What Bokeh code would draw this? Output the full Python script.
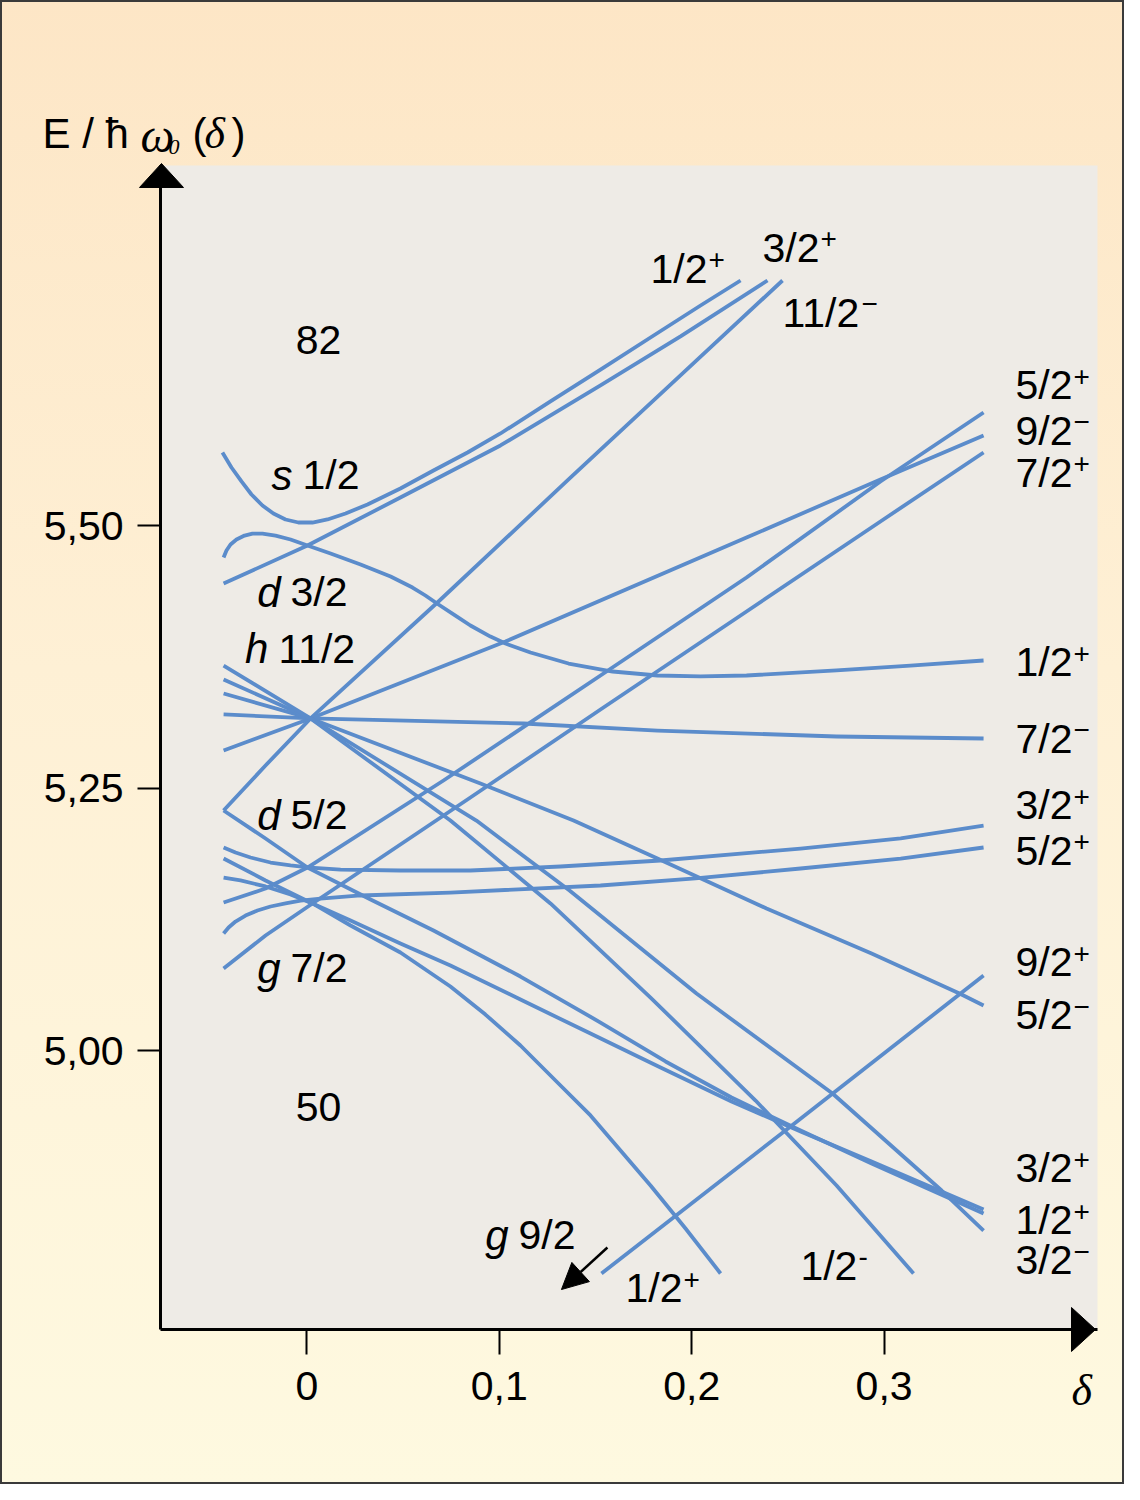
from bokeh.plotting import figure
from bokeh.models import ColumnDataSource, FixedTicker, Range1d, Arrow, NormalHead, BoxAnnotation
from bokeh.core.properties import value
from bokeh.embed import file_html
from bokeh.resources import INLINE

# ---------------- data ----------------
delta_ticks = [0.0, 0.1, 0.2, 0.3]
delta_tick_labels = ["0", "0,1", "0,2", "0,3"]
E_ticks = [5.00, 5.25, 5.50]
E_tick_labels = ["5,00", "5,25", "5,50"]

# s 1/2  (Omega 1/2)
s12_d = [-0.0439, -0.0392, -0.0340, -0.0288, -0.0231, -0.0174, -0.0111, -0.0044, 0.0029, 0.0107, 0.0201,
         0.0315, 0.0486, 0.0658, 0.0835, 0.1006, 0.1266, 0.1526, 0.1786, 0.2046, 0.2254]
s12_E = [5.5697, 5.5554, 5.5421, 5.5297, 5.5192, 5.5116, 5.5059, 5.5030, 5.5030, 5.5059, 5.5116,
         5.5202, 5.5354, 5.5525, 5.5697, 5.5878, 5.6183, 5.6487, 5.6792, 5.7097, 5.7335]

# d 3/2
d32_o32_d = [-0.0433, 0.0003, 0.0486, 0.1006, 0.1526, 0.1942, 0.2394]
d32_o32_E = [5.4449, 5.4811, 5.5268, 5.5764, 5.6335, 5.6802, 5.7335]
d32_o12_d = [-0.0433, -0.0418, -0.0397, -0.0366, -0.0324, -0.0283, -0.0231, -0.0163, -0.0085, 0.0003,
             0.0123, 0.0279, 0.0435, 0.0549, 0.0616, 0.0684, 0.0772, 0.0850, 0.0954, 0.1032, 0.1162,
             0.1360, 0.1589, 0.1822, 0.2046, 0.2285, 0.2753, 0.3137, 0.3517]
d32_o12_E = [5.4697, 5.4764, 5.4821, 5.4868, 5.4906, 5.4925, 5.4925, 5.4906, 5.4868, 5.4811,
             5.4735, 5.4630, 5.4516, 5.4411, 5.4335, 5.4249, 5.4144, 5.4049, 5.3944, 5.3878, 5.3792,
             5.3687, 5.3611, 5.3573, 5.3564, 5.3573, 5.3621, 5.3668, 5.3716]

# h 11/2
h112_o112_d = [-0.0433, -0.0215, 0.0019, 0.0684, 0.1360, 0.1890, 0.2472]
h112_o112_E = [5.2287, 5.2716, 5.3164, 5.4278, 5.5440, 5.6344, 5.7335]
h112_o92_d = [-0.0433, 0.0019, 0.1032, 0.2285, 0.2981, 0.3517]
h112_o92_E = [5.2859, 5.3164, 5.3897, 5.4887, 5.5440, 5.5859]
h112_o72_d = [-0.0433, 0.0019, 0.1126, 0.1822, 0.2753, 0.3517]
h112_o72_E = [5.3202, 5.3164, 5.3116, 5.3049, 5.2992, 5.2973]
h112_o52_d = [-0.0433, 0.0019, 0.0902, 0.1386, 0.1822, 0.2389, 0.2935, 0.3392, 0.3517]
h112_o52_E = [5.3402, 5.3164, 5.2544, 5.2192, 5.1830, 5.1354, 5.0925, 5.0544, 5.0430]
h112_o32_d = [-0.0433, 0.0019, 0.0881, 0.1365, 0.2025, 0.2732, 0.3299, 0.3517]
h112_o32_E = [5.3535, 5.3164, 5.2192, 5.1525, 5.0544, 4.9592, 4.8668, 4.8287]
h112_o12_d = [-0.0433, 0.0019, 0.0746, 0.1266, 0.1786, 0.2332, 0.2753, 0.3153]
h112_o12_E = [5.3668, 5.3164, 5.2192, 5.1402, 5.0506, 4.9525, 4.8716, 4.7878]

# d 5/2
d52_o52_d = [-0.0433, -0.0215, 0.0003, 0.0710, 0.1526, 0.2285, 0.2981, 0.3517]
d52_o52_E = [5.1411, 5.1544, 5.1744, 5.2573, 5.3573, 5.4506, 5.5421, 5.6078]
d52_o32_d = [-0.0433, -0.0371, -0.0293, -0.0189, -0.0085, 0.0019, 0.0175, 0.0486, 0.0850, 0.1318,
             0.1838, 0.2566, 0.3086, 0.3517]
d52_o32_E = [5.1935, 5.1887, 5.1840, 5.1792, 5.1764, 5.1744, 5.1725, 5.1716, 5.1716, 5.1754,
             5.1811, 5.1925, 5.2021, 5.2144]
d52_o12_d = [-0.0433, -0.0215, 0.0003, 0.0331, 0.0658, 0.1110, 0.1526, 0.1864, 0.2207, 0.2566, 0.2935, 0.3517]
d52_o12_E = [5.2287, 5.2021, 5.1744, 5.1440, 5.1144, 5.0706, 5.0268, 4.9897, 4.9554, 4.9240, 4.8925, 4.8449]

# g 7/2
g72_o72_d = [-0.0433, -0.0215, 0.0029, 0.0850, 0.1526, 0.2285, 0.2981, 0.3517]
g72_o72_E = [5.0783, 5.1097, 5.1402, 5.2411, 5.3249, 5.4183, 5.5040, 5.5697]
g72_o52_d = [-0.0433, -0.0407, -0.0371, -0.0319, -0.0257, -0.0189, -0.0111, -0.0033, 0.0071, 0.0279,
             0.0746, 0.1526, 0.2020, 0.2566, 0.3086, 0.3517]
g72_o52_E = [5.1116, 5.1173, 5.1230, 5.1287, 5.1335, 5.1373, 5.1402, 5.1430, 5.1449, 5.1478,
             5.1506, 5.1573, 5.1640, 5.1735, 5.1830, 5.1935]
g72_o32_d = [-0.0433, -0.0345, -0.0215, -0.0085, 0.0029, 0.0227, 0.0486, 0.0746, 0.1110, 0.1474,
             0.1838, 0.2207, 0.2566, 0.2935, 0.3517]
g72_o32_E = [5.1649, 5.1621, 5.1564, 5.1487, 5.1402, 5.1240, 5.1021, 5.0811, 5.0487, 5.0163,
             4.9840, 4.9516, 4.9230, 4.8944, 4.8487]
g72_o12_d = [-0.0433, -0.0215, 0.0029, 0.0227, 0.0486, 0.0746, 0.0928, 0.1110, 0.1292, 0.1474,
             0.1630, 0.1786, 0.1968, 0.2150]
g72_o12_E = [5.1830, 5.1621, 5.1402, 5.1192, 5.0935, 5.0611, 5.0344, 5.0049, 4.9716, 4.9383,
             4.9049, 4.8716, 4.8306, 4.7878]

# g 9/2 (Omega 9/2)
g92_o92_d = [0.1531, 0.2514, 0.3517]
g92_o92_E = [4.7878, 4.9278, 5.0716]

# level labels (fraction + parity sign)
lvl_x = [0.3683] * 12 + [0.1786, 0.2368, 0.2472, 0.1656, 0.2565]
lvl_y = [5.6335, 5.5906, 5.5506, 5.3697, 5.2973, 5.2335, 5.1906, 5.0840, 5.0335, 4.8878, 4.8383, 4.8002,
         5.7449, 5.7649, 5.7030, 4.7735, 4.7954]
lvl_frac = ["5/2", "9/2", "7/2", "1/2", "7/2", "3/2", "5/2", "9/2", "5/2", "3/2", "1/2", "3/2",
            "1/2", "3/2", "11/2", "1/2", "1/2"]
lvl_sign = ["+", "\u2212", "+", "+", "\u2212", "+", "+", "+", "\u2212", "+", "+", "\u2212",
            "+", "+", "\u2212", "+", "-"]

# shell labels (orbital letter + j)
shell_x = [-0.0023, -0.0085, -0.0148, -0.0085, -0.0085, 0.1100]
shell_y = [5.5478, 5.4364, 5.3830, 5.2240, 5.0783, 4.8240]
shell_l = ["s", "d", "h", "d", "g", "g"]
shell_j = ["1/2", "3/2", "11/2", "5/2", "7/2", "9/2"]

# magic numbers
magic_x = [0.0060, 0.0060]
magic_y = [5.6764, 4.9459]
magic_t = ["82", "50"]

curves = [
    (s12_d, s12_E), (d32_o32_d, d32_o32_E), (d32_o12_d, d32_o12_E),
    (h112_o112_d, h112_o112_E), (h112_o92_d, h112_o92_E), (h112_o72_d, h112_o72_E),
    (h112_o52_d, h112_o52_E), (h112_o32_d, h112_o32_E), (h112_o12_d, h112_o12_E),
    (d52_o52_d, d52_o52_E), (d52_o32_d, d52_o32_E), (d52_o12_d, d52_o12_E),
    (g72_o72_d, g72_o72_E), (g72_o52_d, g72_o52_E), (g72_o32_d, g72_o32_E), (g72_o12_d, g72_o12_E),
    (g92_o92_d, g92_o92_E),
]

# ---------------- figure ----------------
W, H = 1124, 1484
PX_X = 1924.0   # pixels per unit delta
PX_Y = 1050.0   # pixels per unit energy
# whole canvas is the frame; the grey panel is the plotting box
XL, XR = -0.15925, 0.42495
YB, YT = 4.58683, 6.00016
X0, X1 = -0.07609, 0.41091     # grey panel (axis extent)
Y0, Y1 = 4.73445, 5.84302

p = figure(width=W, height=H, x_range=Range1d(XL, XR), y_range=Range1d(YB, YT),
           output_backend="svg", toolbar_location=None, title=None,
           min_border_left=0, min_border_right=0, min_border_top=0, min_border_bottom=0,
           background_fill_alpha=0.0, border_fill_alpha=0.0,
           stylesheets=[":host { background: linear-gradient(180deg, #FDE6C6 0%, #FEF0D5 45%, #FEF9E0 100%);"
                        " box-shadow: inset 0 0 0 2px #3a3a3a; }"])
p.outline_line_color = None
p.grid.visible = False

p.add_layout(BoxAnnotation(left=X0, right=X1, bottom=Y0, top=Y1, fill_color="#EEEBE6", fill_alpha=1.0,
                           line_color=None, level="underlay"))

FONT = value("Liberation Sans")
SERIF = value("Liberation Serif")

for ax, ticks, labs in ((p.xaxis, delta_ticks, delta_tick_labels), (p.yaxis, E_ticks, E_tick_labels)):
    ax.ticker = FixedTicker(ticks=ticks)
    ax.major_label_overrides = {t: l for t, l in zip(ticks, labs)}
    ax.axis_line_width = 3
    ax.axis_line_color = "black"
    ax.major_tick_line_width = 2
    ax.major_tick_line_color = "black"
    ax.major_tick_in = 0
    ax.minor_tick_line_color = None
    ax.major_label_text_font = "Liberation Sans"
    ax.major_label_text_font_size = "41px"
    ax.major_label_text_color = "black"
p.xaxis.fixed_location = Y0
p.xaxis.bounds = (X0, X1)
p.yaxis.fixed_location = X0
p.yaxis.bounds = (Y0, Y1)
p.xaxis.major_tick_out = 25
p.xaxis.major_label_standoff = 18
p.yaxis.major_tick_out = 23
p.yaxis.major_label_standoff = 14

BLUE = "#5B8CCB"
for d, e in curves:
    p.line(d, e, line_color=BLUE, line_width=3.8, line_join="round")

# level labels
lvl_src = ColumnDataSource(dict(x=lvl_x, y=lvl_y, frac=lvl_frac, sign=lvl_sign,
                                dx=[79 if f == "11/2" else 58 for f in lvl_frac]))
p.text(x="x", y="y", text="frac", source=lvl_src, text_font=FONT, text_font_size="41px",
       text_align="left", text_baseline="middle", text_color="black")
p.text(x="x", y="y", text="sign", source=lvl_src, x_offset="dx", y_offset=-9, text_font=FONT,
       text_font_size="28px", text_align="left", text_baseline="middle", text_color="black")

# shell labels
sh_src = ColumnDataSource(dict(x=shell_x, y=shell_y, l=shell_l, j=shell_j))
p.text(x="x", y="y", text="j", source=sh_src, text_font=FONT, text_font_size="41px",
       text_align="left", text_baseline="middle", text_color="black")
p.text(x="x", y="y", text="l", source=sh_src, x_offset=-10, text_font=FONT, text_font_size="42px",
       text_font_style="italic", text_align="right", text_baseline="middle", text_color="black")

# magic numbers
mg_src = ColumnDataSource(dict(x=magic_x, y=magic_y, t=magic_t))
p.text(x="x", y="y", text="t", source=mg_src, text_font=FONT, text_font_size="41px",
       text_align="center", text_baseline="middle", text_color="black")

# g 9/2 arrow
p.add_layout(Arrow(end=NormalHead(size=26, fill_color="black", line_color="black"),
                   x_start=0.1562, y_start=4.8125, x_end=0.1323, y_end=4.7725,
                   line_width=2.5, line_color="black"))

# axis arrow heads (22 px half width, 24 px long)
hw_x, ln_y = 22 / PX_X, 24 / PX_Y
yt_x, yt_y = X0 + 1 / PX_X, Y1 + 2 / PX_Y
p.patch([yt_x, yt_x - hw_x, yt_x + hw_x], [yt_y, yt_y - ln_y, yt_y - ln_y],
        fill_color="black", line_color="black", line_width=1)
ln_x, hw_y = 24 / PX_X, 22 / PX_Y
xt_x, xt_y = X1 - 2 / PX_X, Y0
p.patch([xt_x, xt_x - ln_x, xt_x - ln_x], [xt_y, xt_y + hw_y, xt_y - hw_y],
        fill_color="black", line_color="black", line_width=1)

# axis titles
def lab(x, y, t, size="41px", font=FONT, style="normal"):
    p.text(x=[x], y=[y], text=[t], text_font=font, text_font_size=size, text_font_style=style,
           text_align="left", text_baseline="middle", text_color="black")

lab(-0.1374, 5.8735, "E / \u0127", size="42px")
lab(-0.0865, 5.8716, "\u03c9", size="48px", font=SERIF, style="italic")
lab(-0.0719, 5.8602, "0", size="22px", font=SERIF, style="italic")
lab(-0.0595, 5.8735, "(", size="42px")
lab(-0.0532, 5.8735, "\u03b4", size="44px", font=SERIF, style="italic")
lab(-0.0392, 5.8735, ")", size="42px")
lab(0.3974, 4.6764, "\u03b4", size="44px", font=SERIF, style="italic")

open("out.html", "w").write(file_html(p, INLINE))
